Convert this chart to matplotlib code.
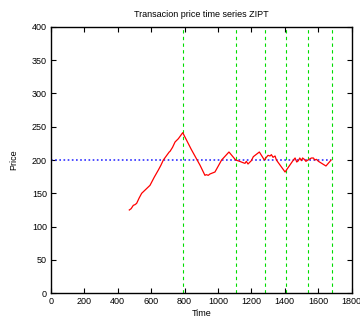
import matplotlib
matplotlib.use("Agg")
import matplotlib.pyplot as plt

# Transaction price path (time, price)
time = [469, 480, 493, 503, 513, 528, 543, 568, 593, 618, 643, 658, 673, 708, 713,
        728, 743, 763, 789, 840, 893, 922, 930, 942, 952, 962, 972, 982, 1022, 1066,
        1106, 1130, 1150, 1162, 1170, 1180, 1192, 1200, 1212, 1248, 1278, 1290, 1300,
        1312, 1320, 1330, 1342, 1350, 1402, 1452, 1462, 1472, 1482, 1490, 1500, 1507,
        1517, 1527, 1545, 1560, 1572, 1580, 1590, 1602, 1647, 1678]
price = [125, 127, 132, 133, 135, 143, 150, 156, 162, 174, 185, 192, 200, 212, 213,
         219, 227, 232, 241, 216, 192, 177, 178, 177, 179, 180, 181, 182, 200, 212,
         200, 198, 196, 195, 198, 194, 197, 199, 205, 212, 200, 204, 207, 206, 208,
         204, 206, 200, 182, 200, 203, 197, 199, 203, 199, 203, 201, 198, 201, 203,
         203, 200, 201, 198, 191, 200]

# Reference price level and event markers
equilibrium = 200
eq_span = [0, 1680]
events = [792, 1110, 1280, 1406, 1541, 1681]

plt.rcParams["font.family"] = ["Liberation Sans", "DejaVu Sans"]
fig = plt.figure(figsize=(3.6, 3.2), dpi=100)
ax = fig.add_axes([0.1417, 0.0834, 0.8347, 0.8332])

for t in events:
    ax.axvline(t, color="#00dd00", linestyle=(0, (3, 3)), linewidth=0.8)
ax.plot(eq_span, [equilibrium, equilibrium], color="#3030ff",
        linestyle=(0, (1, 1.5)), linewidth=1.2)
ax.plot(time, price, color="#ff0000", linewidth=0.9)

ax.set_xlim(0, 1800)
ax.set_ylim(0, 400)
ax.set_xticks(range(0, 1801, 200))
ax.set_yticks(range(0, 401, 50))
ax.tick_params(direction="in", length=3.5, width=0.8, labelsize=6.5,
               top=True, right=True, pad=3)
for s in ax.spines.values():
    s.set_linewidth(1.0)

ax.set_title("Transacion price time series ZIPT", fontsize=6.5, pad=7)
ax.set_xlabel("Time", fontsize=6.5, labelpad=2)
ax.set_ylabel("Price", fontsize=6.5, labelpad=10)

fig.savefig("out.png", dpi=100)
